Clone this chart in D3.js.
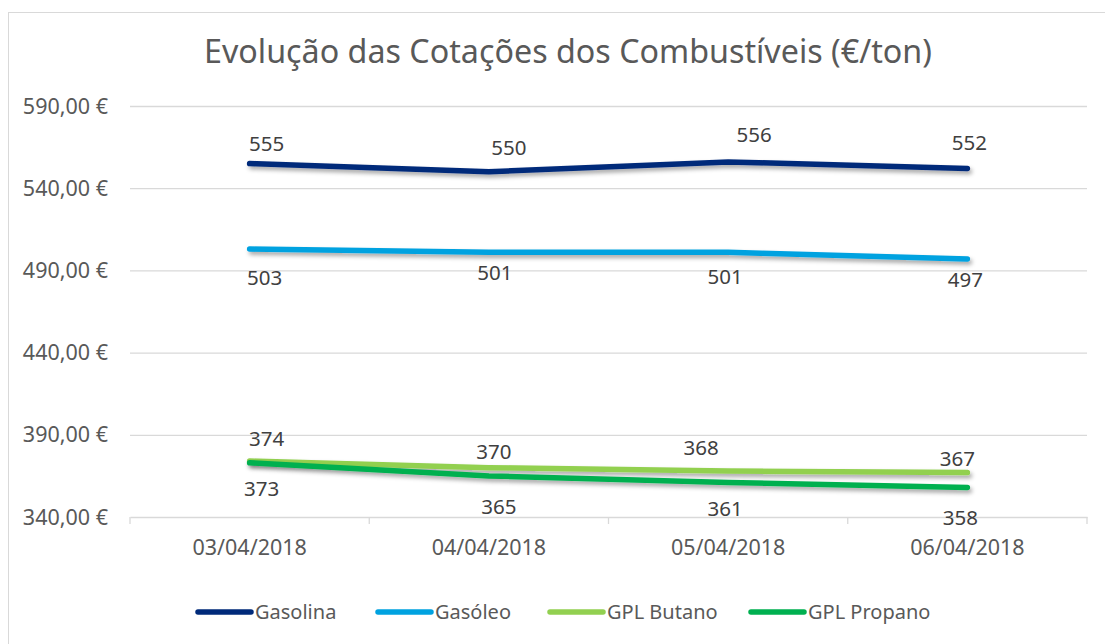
<!DOCTYPE html>
<html><head><meta charset="utf-8">
<script src="https://cdn.jsdelivr.net/npm/d3@7"></script>
<style>body{margin:0;background:#fff}svg{display:block}text{font-family:"Noto Sans","Open Sans",sans-serif}</style>
</head><body><svg id="c" width="1105" height="644"></svg>
<script>
const title = "Evolução das Cotações dos Combustíveis (€/ton)";
const categories = ["03/04/2018","04/04/2018","05/04/2018","06/04/2018"];
const seriesNames = ["Gasolina","Gasóleo","GPL Butano","GPL Propano"];
const gasolina = [555,550,556,552];
const gasoleo = [503,501,501,497];
const butano = [374,370,368,367];
const propano = [373,365,361,358];
const yTicks = [340,390,440,490,540,590];

(function(){
const colors = ["#002A7A","#00A2E0","#92D050","#00B050"];
const labelDx = [[17,20,26,2],[15,6,-3,-2],[17,5,-27,-10],[12,10,-3,-7]];
const labelDy = [[-20,-24,-27,-26],[29,21,25,21],[-22,-16,-23,-14],[26,31,26,30]];

const svg = d3.select("#c");
const pL=130,pR=1087,pT=106,pB=517;
svg.append("rect").attr("x",8.5).attr("y",12.5).attr("width",1110).attr("height",650).attr("fill","#fff").attr("stroke","#d9d9d9");

const defs = svg.append("defs");
const f = defs.append("filter").attr("id","sh").attr("x","-10%").attr("y","-50%").attr("width","120%").attr("height","300%");
f.append("feDropShadow").attr("dx",2).attr("dy",3).attr("stdDeviation",2).attr("flood-color","#000").attr("flood-opacity",0.35);

const x = d3.scaleBand().domain(categories).range([pL,pR]);
const y = d3.scaleLinear().domain([340,590]).range([pB,pT]);

svg.append("g").selectAll("line").data(yTicks.slice(1)).join("line")
 .attr("x1",pL).attr("x2",pR).attr("y1",d=>y(d)+0.5).attr("y2",d=>y(d)+0.5)
 .attr("stroke","#d9d9d9").attr("stroke-width",1.3);

const fmt = v => d3.format(".2f")(v).replace(".",",")+" €";
svg.append("g").selectAll("text").data(yTicks).join("text")
 .attr("x",108).attr("y",d=>y(d)).attr("dy","0.35em").attr("text-anchor","end")
 .attr("fill","#595959").attr("font-size",21.5).text(fmt);

const xa = svg.append("g").attr("transform",`translate(0,${pB})`).call(d3.axisBottom(x).tickSize(0).tickPadding(23));
xa.select(".domain").attr("stroke","#d9d9d9").attr("stroke-width",1.3);
xa.selectAll("text").attr("fill","#595959").attr("font-size",21.5).attr("font-family","Noto Sans");
const bounds = categories.map(c=>x(c)).concat([pR]);
svg.append("g").selectAll("line").data(bounds).join("line")
 .attr("x1",d=>d).attr("x2",d=>d).attr("y1",pB).attr("y2",pB+7)
 .attr("stroke","#d9d9d9").attr("stroke-width",1.3);

const allSeries = [gasolina,gasoleo,butano,propano];
const cx = c => x(c)+x.bandwidth()/2;
const line = d3.line().x((d,i)=>cx(categories[i])).y(d=>y(d));

allSeries.forEach((s,k)=>{
  svg.append("path").datum(s).attr("d",line).attr("fill","none")
   .attr("stroke",colors[k]).attr("stroke-width",5.5).attr("stroke-linecap","round").attr("stroke-linejoin","round")
   .attr("filter","url(#sh)");
});
allSeries.forEach((s,k)=>{
  svg.append("g").selectAll("text").data(s).join("text")
   .attr("x",(d,i)=>cx(categories[i])+labelDx[k][i])
   .attr("y",(d,i)=>y(d)+labelDy[k][i]).attr("dy","0.35em")
   .attr("text-anchor","middle").attr("fill","#404040").attr("font-size",20.5).text(d=>d);
});

const t = svg.append("text").attr("x",568).attr("y",52).attr("dy","0.35em").attr("text-anchor","middle")
 .attr("fill","#595959").attr("font-size",32).text(title);
const tw = t.node().getComputedTextLength();
t.attr("font-size",32*728/tw);

const legX = [196,376,548,749];
seriesNames.forEach((n,k)=>{
  const g = svg.append("g");
  g.append("line").attr("x1",legX[k]+2).attr("x2",legX[k]+55).attr("y1",612).attr("y2",612)
   .attr("stroke",colors[k]).attr("stroke-width",5.5).attr("stroke-linecap","round");
  g.append("text").attr("x",legX[k]+59).attr("y",612).attr("dy","0.35em").attr("fill","#595959").attr("font-size",20).text(n);
});
})();
</script></body></html>
